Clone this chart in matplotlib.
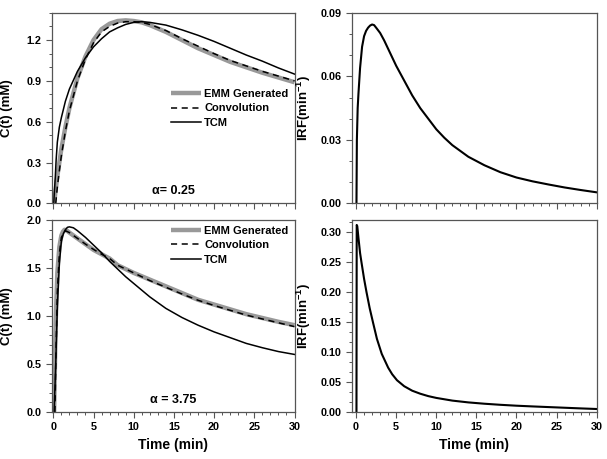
import numpy as np
import matplotlib
matplotlib.use("Agg")
from matplotlib import pyplot as plt
from matplotlib.ticker import MultipleLocator, AutoMinorLocator, FormatStrFormatter

plt.rcParams['font.family'] = ['Liberation Sans', 'DejaVu Sans']
plt.rcParams['font.weight'] = 'bold'
plt.rcParams['mathtext.fontset'] = 'custom'
plt.rcParams['mathtext.bf'] = 'Liberation Sans:bold'

# alpha = 0.25 (top row)
t_emm_a = [0.1, 0.25, 0.5, 0.75, 1, 1.5, 2, 3, 4, 5, 6, 7, 8, 9, 10, 11, 12, 14, 16, 18, 20, 22, 24, 26, 28, 30]
c_emm_a = [0, 0.08, 0.2, 0.3, 0.4, 0.56, 0.7, 0.92, 1.08, 1.2, 1.28, 1.32, 1.34, 1.345, 1.34, 1.33, 1.31,
           1.26, 1.2, 1.14, 1.09, 1.04, 1.0, 0.96, 0.925, 0.89]
t_conv_a = [0.3, 0.5, 0.75, 1, 1.5, 2, 3, 4, 5, 6, 7, 8, 9, 10, 11, 12, 14, 16, 18, 20, 22, 24, 26, 28, 30]
c_conv_a = [0, 0.12, 0.24, 0.35, 0.53, 0.68, 0.9, 1.06, 1.18, 1.26, 1.3, 1.325, 1.335, 1.335, 1.33, 1.315,
            1.27, 1.21, 1.155, 1.1, 1.05, 1.01, 0.97, 0.935, 0.9]
t_tcm_a = [0.05, 0.15, 0.25, 0.35, 0.5, 0.75, 1, 1.25, 1.5, 2, 3, 4, 5, 6, 7, 8, 9, 10, 11, 12, 14, 16, 18,
           20, 22, 24, 26, 28, 30]
c_tcm_a = [0, 0.1, 0.2, 0.32, 0.45, 0.56, 0.63, 0.69, 0.75, 0.84, 0.97, 1.07, 1.15, 1.21, 1.26, 1.29, 1.315,
           1.33, 1.335, 1.33, 1.31, 1.275, 1.235, 1.19, 1.14, 1.09, 1.045, 0.995, 0.95]
t_irf_a = [0.05, 0.1, 0.2, 0.3, 0.5, 0.75, 1, 1.25, 1.5, 1.75, 2, 2.25, 2.5, 3, 3.5, 4, 4.5, 5, 6, 7, 8, 9,
           10, 11, 12, 14, 16, 18, 20, 22, 24, 26, 28, 30]
irf_a = [0, 0.03, 0.045, 0.052, 0.064, 0.074, 0.079, 0.0815, 0.083, 0.084, 0.0845, 0.0842, 0.083, 0.0805,
         0.077, 0.073, 0.069, 0.065, 0.058, 0.051, 0.045, 0.04, 0.035, 0.031, 0.0275, 0.022, 0.018, 0.0147,
         0.0122, 0.0104, 0.0089, 0.0075, 0.0063, 0.0052]

# alpha = 3.75 (bottom row)
t_emm_b = [0.1, 0.2, 0.3, 0.5, 0.75, 1, 1.2, 1.4, 1.7, 2, 3, 4, 5, 6, 7, 8, 10, 12, 14, 16, 18, 20, 22, 24,
           26, 28, 30]
c_emm_b = [0, 0.5, 0.95, 1.45, 1.72, 1.84, 1.88, 1.9, 1.89, 1.87, 1.81, 1.75, 1.69, 1.645, 1.6, 1.53, 1.45,
           1.38, 1.31, 1.24, 1.17, 1.12, 1.07, 1.02, 0.98, 0.94, 0.905]
t_conv_b = [0.2, 0.3, 0.5, 0.75, 1, 1.5, 2, 3, 4, 5, 6, 7, 8, 10, 12, 14, 16, 18, 20, 22, 24, 26, 28, 30]
c_conv_b = [0, 0.5, 1.25, 1.65, 1.82, 1.89, 1.87, 1.81, 1.75, 1.695, 1.645, 1.6, 1.53, 1.45, 1.37, 1.3, 1.23,
            1.165, 1.11, 1.06, 1.01, 0.97, 0.93, 0.89]
t_tcm_b = [0.1, 0.3, 0.5, 0.75, 1, 1.25, 1.5, 1.75, 2, 2.5, 3, 4, 5, 6, 7, 8, 9, 10, 12, 14, 16, 18, 20, 22,
           24, 26, 28, 30]
c_tcm_b = [0, 0.5, 1.1, 1.55, 1.78, 1.86, 1.9, 1.925, 1.93, 1.92, 1.89, 1.82, 1.74, 1.66, 1.57, 1.49, 1.41,
           1.34, 1.2, 1.08, 0.985, 0.905, 0.835, 0.775, 0.715, 0.67, 0.63, 0.6]
t_irf_b = [0.05, 0.08, 0.15, 0.3, 0.5, 0.67, 1.0, 1.3, 1.7, 2.1, 2.6, 3.2, 4, 4.5, 5.1, 6, 7, 8, 9, 10,
           12, 14, 16, 18, 20, 22, 24, 26, 28, 30]
irf_b = [0, 0.312, 0.31, 0.29, 0.265, 0.25, 0.222, 0.2, 0.173, 0.15, 0.122, 0.097, 0.074, 0.063, 0.053,
         0.043, 0.0355, 0.0305, 0.0265, 0.0235, 0.019, 0.016, 0.0138, 0.012, 0.0105, 0.0093, 0.0082, 0.0071,
         0.006, 0.005]

fig = plt.figure(figsize=(6.07, 4.59), dpi=100)
ax1 = fig.add_axes([0.0852, 0.557, 0.400, 0.415])
ax2 = fig.add_axes([0.580, 0.557, 0.403, 0.415])
ax3 = fig.add_axes([0.0852, 0.1024, 0.400, 0.418])
ax4 = fig.add_axes([0.580, 0.1024, 0.403, 0.418])

frame = '#555555'
for ax in (ax1, ax2, ax3, ax4):
    for s in ax.spines.values():
        s.set_color(frame)
        s.set_linewidth(0.9)
    ax.tick_params(which='both', direction='out', colors='black', labelsize=7.8, top=False, right=False)
    ax.tick_params(which='major', length=4, width=0.8, color=frame)
    ax.tick_params(which='minor', length=2, width=0.7, color=frame)
    ax.xaxis.set_major_locator(MultipleLocator(5))
    ax.xaxis.set_minor_locator(AutoMinorLocator(5))

for ax, te, ce, tc, cc, tt, ct, note, ly in [
        (ax1, t_emm_a, c_emm_a, t_conv_a, c_conv_a, t_tcm_a, c_tcm_a, '\u03b1= 0.25', 0.60),
        (ax3, t_emm_b, c_emm_b, t_conv_b, c_conv_b, t_tcm_b, c_tcm_b, '\u03b1 = 3.75', 0.97)]:
    ax.plot(te, ce, color='#999999', lw=3.2, label='EMM Generated', solid_capstyle='butt')
    ax.plot(tc, cc, color='black', lw=1.1, dashes=(4, 3), label='Convolution')
    ax.plot(tt, ct, color='black', lw=1.1, label='TCM')
    ax.set_xlim(-0.2, 30)
    ax.set_ylabel('C(t) (mM)', fontsize=9.5, fontweight='bold')
    ax.yaxis.set_label_coords(-0.16, 0.5)
    ax.text(0.5, 0.065, note, transform=ax.transAxes, ha='center', va='center', fontsize=9)
    ax.legend(loc='upper left', bbox_to_anchor=(0.49, ly), frameon=False, fontsize=8,
              handlelength=2.7, handletextpad=0.3, labelspacing=0.4, borderpad=0, borderaxespad=0)

ax2.plot(t_irf_a, irf_a, color='black', lw=1.5)
ax4.plot(t_irf_b, irf_b, color='black', lw=1.5)
for ax in (ax2, ax4):
    ax.set_xlim(-0.5, 30)
    ax.set_ylabel(r'IRF(min$^{\mathbf{-1}}$)', fontsize=9.5, fontweight='bold')
    ax.yaxis.set_label_coords(-0.16, 0.5)

ax1.set_ylim(0, 1.4)
ax1.yaxis.set_major_locator(MultipleLocator(0.3))
ax1.yaxis.set_minor_locator(AutoMinorLocator(3))
ax2.set_ylim(0, 0.09)
ax2.yaxis.set_major_locator(MultipleLocator(0.03))
ax2.yaxis.set_minor_locator(AutoMinorLocator(3))
ax3.set_ylim(0, 2.0)
ax3.yaxis.set_major_locator(MultipleLocator(0.5))
ax3.yaxis.set_minor_locator(AutoMinorLocator(5))
ax4.set_ylim(0, 0.32)
ax4.yaxis.set_major_locator(MultipleLocator(0.05))
ax4.yaxis.set_minor_locator(AutoMinorLocator(3))

ax1.yaxis.set_major_formatter(FormatStrFormatter('%.1f'))
ax2.yaxis.set_major_formatter(FormatStrFormatter('%.2f'))
ax3.yaxis.set_major_formatter(FormatStrFormatter('%.1f'))
ax4.yaxis.set_major_formatter(FormatStrFormatter('%.2f'))

for ax in (ax1, ax2):
    ax.tick_params(labelbottom=False)
for ax in (ax3, ax4):
    ax.set_xlabel('Time (min)', fontsize=10, fontweight='bold', labelpad=4)

for ax in (ax1, ax2, ax3, ax4):
    for lab in ax.get_xticklabels() + ax.get_yticklabels():
        lab.set_fontweight('bold')

fig.savefig('out.png', dpi=100)
